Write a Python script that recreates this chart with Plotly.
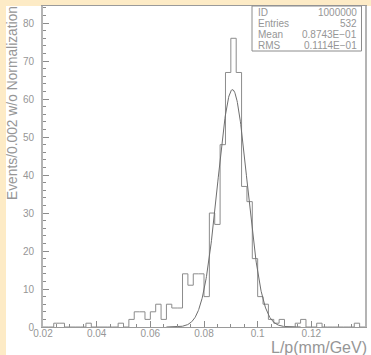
import numpy as np
import plotly.graph_objects as go

# ---- data ----
BIN_LOW = 0.02
BIN_WIDTH = 0.002
counts = [0, 0, 1, 1, 0, 0, 0, 0, 1, 0,
          0, 0, 0, 0, 1, 0, 2, 4, 4, 2,
          4, 6, 2, 6, 5, 5, 14, 11, 14, 14,
          8, 30, 27, 48, 67, 76, 67, 37, 33, 18,
          8, 6, 2, 1, 2, 0, 0, 1, 2, 0,
          0, 1, 0, 0, 0, 0, 0, 0, 1, 0]

# Gaussian fit parameters
fit_amp = 62.5
fit_mean = 0.0906
fit_sigma = 0.0055
fit_range = [0.066, 0.116]

x_tick_vals = [0.02, 0.04, 0.06, 0.08, 0.10, 0.12, 0.14]
x_tick_text = ["0.02", "0.04", "0.06", "0.08", "0.1", "0.12", "0.14"]
y_tick_vals = [0, 10, 20, 30, 40, 50, 60, 70, 80]

stats_labels = ["ID", "Entries", "Mean", "RMS"]
stats_values = ["1000000", "532", "0.8743E\u221201", "0.1114E\u221201"]

x_title = "L/p(mm/GeV)"
y_title = "Events/0.002 w/o Normalization"

# ---- build ----
n = len(counts)
edges = BIN_LOW + BIN_WIDTH * np.arange(n + 1)
step_y = list(counts) + [counts[-1]]

fx = np.linspace(fit_range[0], fit_range[1], 400)
fy = fit_amp * np.exp(-0.5 * ((fx - fit_mean) / fit_sigma) ** 2)

TXT = "#969696"
FONT = "Liberation Sans"

fig = go.Figure()
fig.add_trace(go.Scatter(x=edges, y=step_y, mode="lines", line_shape="hv",
                         line=dict(color="#8c8c8c", width=1), hoverinfo="skip"))
fig.add_trace(go.Scatter(x=fx, y=fy, mode="lines",
                         line=dict(color="#6e6e6e", width=1), hoverinfo="skip"))

W, H = 371, 355
L, R, T, B = 43, 6, 6, 28
pw, ph = W - L - R, H - T - B


def px(xp):
    return (xp - L) / pw


def py(yp):
    return (H - B - yp) / ph


shapes = [
    dict(type="rect", xref="paper", yref="paper", x0=px(0), x1=px(6), y0=py(H + 2), y1=py(-2),
         fillcolor="#fdebc6", line_width=0, layer="below"),
    dict(type="rect", xref="paper", yref="paper", x0=px(0), x1=px(W + 2), y0=py(6), y1=py(-2),
         fillcolor="#fdebc6", line_width=0, layer="below"),
    dict(type="rect", xref="paper", yref="paper", x0=px(252), x1=px(361.5), y0=py(51), y1=1.0,
         fillcolor="white", line=dict(color="#8c8c8c", width=1)),
]

annotations = []
row_y = [12.5, 23.5, 34.5, 45.2]
for lab, val, yy in zip(stats_labels, stats_values, row_y):
    annotations.append(dict(xref="paper", yref="paper", x=px(256), y=py(yy), text=lab,
                            showarrow=False, xanchor="left", yanchor="middle",
                            font=dict(family=FONT, size=10, color=TXT)))
    annotations.append(dict(xref="paper", yref="paper", x=px(358.5), y=py(yy), text=val,
                            showarrow=False, xanchor="right", yanchor="middle",
                            font=dict(family=FONT, size=10, color=TXT)))
annotations.append(dict(xref="paper", yref="paper", x=px(369), y=py(348), text=x_title,
                        showarrow=False, xanchor="right", yanchor="middle",
                        font=dict(family=FONT, size=16, color=TXT)))
annotations.append(dict(xref="paper", yref="paper", x=px(12), y=py(4), text=y_title,
                        showarrow=False, xanchor="center", yanchor="top", textangle=-90,
                        font=dict(family=FONT, size=13.8, color=TXT)))

fig.update_layout(
    width=W, height=H,
    margin=dict(l=L, r=R, t=T, b=B, pad=0, autoexpand=False),
    paper_bgcolor="white", plot_bgcolor="white",
    showlegend=False,
    shapes=shapes, annotations=annotations,
    xaxis=dict(range=[0.02, 0.14], tickmode="array", tickvals=x_tick_vals, ticktext=x_tick_text,
               automargin=False,
               ticks="inside", ticklen=6, tickcolor="#8c8c8c", tickwidth=1,
               minor=dict(tick0=0.02, dtick=0.005, ticks="inside", ticklen=3, tickcolor="#8c8c8c"),
               showgrid=False, zeroline=False, showline=True, linecolor="#9a9a9a", linewidth=1,
               mirror=True, tickfont=dict(family=FONT, size=10, color=TXT), ticklabelstandoff=-3),
    yaxis=dict(range=[0, 84.5], tickmode="array", tickvals=y_tick_vals,
               automargin=False,
               ticks="inside", ticklen=6, tickcolor="#8c8c8c", tickwidth=1,
               minor=dict(tick0=0, dtick=2, ticks="inside", ticklen=3, tickcolor="#8c8c8c"),
               showgrid=False, zeroline=False, showline=True, linecolor="#b4b4b4", linewidth=2,
               mirror=True, tickfont=dict(family=FONT, size=10, color=TXT), ticklabelstandoff=5),
)

fig.write_html("out.html", config={"displayModeBar": False},
               post_script="document.body.style.margin='0';document.body.style.padding='0';"
                           "document.body.style.overflow='hidden';")
